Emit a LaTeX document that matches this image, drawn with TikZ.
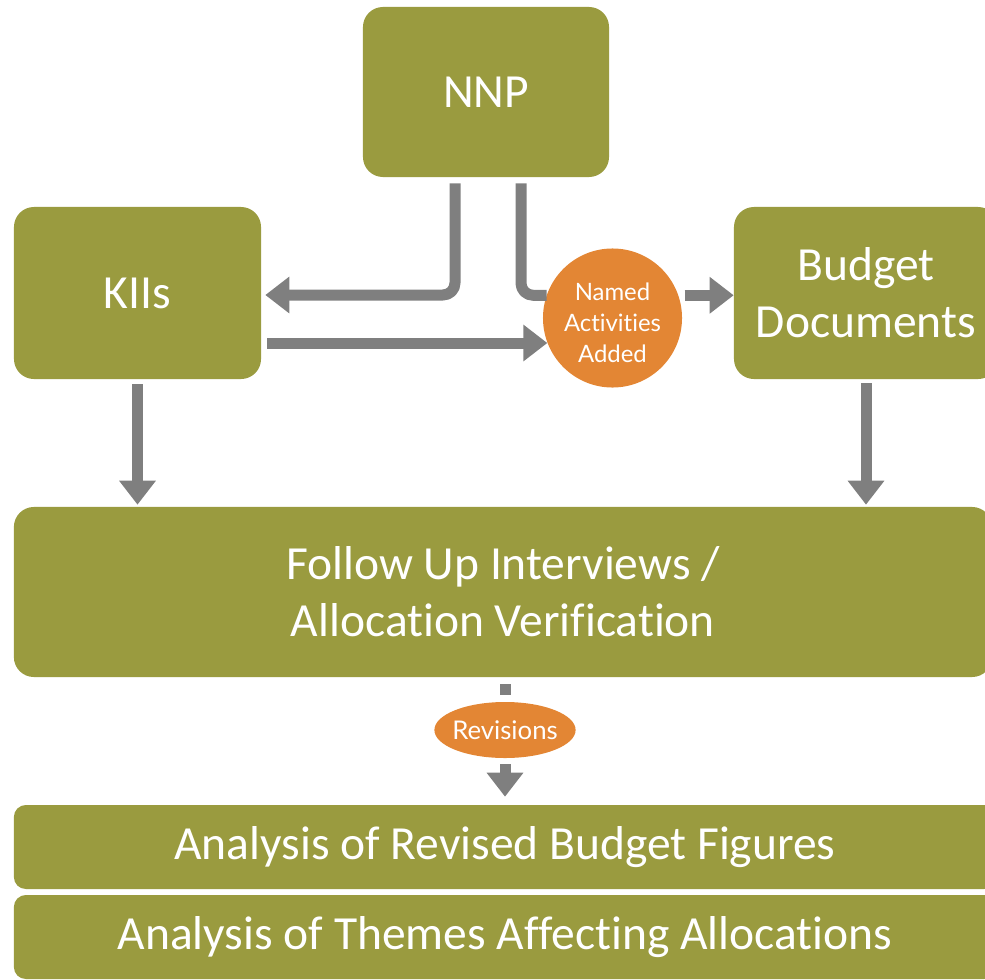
\documentclass[tikz,border=0pt]{standalone}
\usepackage{fontspec}
\setmainfont{Carlito}[Ligatures=NoCommon]
\newfontfamily\notefont{Lato}[Ligatures=NoCommon]
\usetikzlibrary{arrows.meta,shapes.geometric}
\definecolor{olivebox}{RGB}{154,155,63}
\definecolor{orangenote}{RGB}{227,134,52}
\definecolor{greyarrow}{RGB}{127,127,127}
\begin{document}
\begin{tikzpicture}[x=0.025cm,y=-0.025cm,>={Triangle[length=0.6cm,width=0.88cm]},line join=round,
	blk/.style={rectangle,rounded corners=0.5cm,fill=olivebox,text=white,align=center,inner sep=0pt,font=\fontsize{33.8}{40.5}\selectfont},
	band/.style={blk,rounded corners=0.3cm,minimum height=2.1cm},
	note/.style={fill=orangenote,text=white,align=center,inner sep=0pt,font=\notefont\fontsize{17}{22}\selectfont},
	conn/.style={draw=greyarrow,line width=0.275cm,rounded corners=0.3cm}]
	\useasboundingbox (0,0) rectangle (985,979);
	\clip (0,0) rectangle (985,979);
	\node[blk,minimum width=6.15cm,minimum height=4.25cm] (NNP) at (486,92) {NNP};
	\node[blk,minimum width=6.175cm,minimum height=4.3cm] (KII) at (137.5,293) {KIIs};
	\node[blk,minimum width=6.6cm,minimum height=4.3cm] (Bud) at (866,293) {Budget\\Documents};
	\node[blk,minimum width=24.45cm,minimum height=4.25cm] (Fol) at (503,592) {Follow Up Interviews /\\Allocation Verification};
	\node[band,minimum width=24.55cm] (AnaA) at (505,847) {Analysis of Revised Budget Figures};
	\node[band,minimum width=24.55cm] (AnaB) at (505,937) {Analysis of Themes Affecting Allocations};
	\node[note,circle,minimum size=3.475cm] (Act) at (612.5,318) {\\[-0.1cm]Named\\Activities\\Added};
	\node[note,ellipse,inner xsep=-0.07cm,minimum width=3.5cm,minimum height=1.4cm,font=\notefont\fontsize{18.3}{22}\selectfont] (Rev) at (505,730) {Revisions};
	\draw[conn,->] ([shift={(-31,6)}]NNP.south) |- ([shift={(4,2)}]KII.east);
	\draw[conn] ([shift={(35,6)}]NNP.south) |- (Act.161);
	\draw[conn,->] ([xshift=0.15cm]KII.east |- Act.201) -- (Act.201);
	\draw[conn,->] ([xshift=0.15cm]Act.19) -- (Act.19 -| Bud.west);
	\draw[conn,->] ([yshift=-0.125cm]KII.south) -- ([yshift=0.05cm]KII.south |- Fol.north);
	\draw[conn,->] ([yshift=-0.1cm]Bud.south) -- ([yshift=0.05cm]Bud.south |- Fol.north);
	\draw[conn] ([yshift=-0.175cm]Rev.north |- Fol.south) -- ([yshift=0.175cm]Rev.north);
	\draw[conn,->] ([yshift=-0.15cm]Rev.south) -- ([yshift=0.2cm]Rev.south |- AnaA.north);
\end{tikzpicture}
\end{document}
